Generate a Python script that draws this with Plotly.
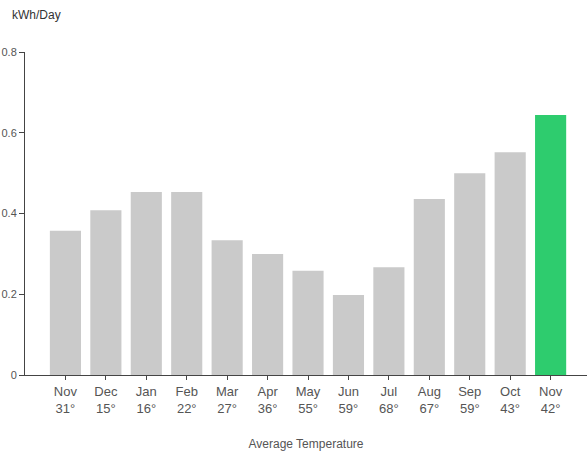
import plotly.graph_objects as go

months = ["Nov", "Dec", "Jan", "Feb", "Mar", "Apr", "May", "Jun", "Jul", "Aug", "Sep", "Oct", "Nov"]
temps = ["31°", "15°", "16°", "22°", "27°", "36°", "55°", "59°", "68°", "67°", "59°", "43°", "42°"]
kwh = [0.357, 0.408, 0.453, 0.453, 0.334, 0.300, 0.258, 0.198, 0.267, 0.436, 0.500, 0.552, 0.644]
y_ticks = [0, 0.2, 0.4, 0.6, 0.8]
y_ticklabels = ["0", "0.2", "0.4", "0.6", "0.8"]

gray = "#cacaca"
green = "#2ecc6e"
colors = [gray] * (len(kwh) - 1) + [green]
x = list(range(len(kwh)))
ticktext = [f"{m}<br>{t}" for m, t in zip(months, temps)]

font_fam = "Liberation Sans, Arial, sans-serif"
txt_col = "#555555"

fig = go.Figure(go.Bar(x=x, y=kwh, marker=dict(color=colors, line=dict(width=0)), width=0.77))

fig.update_layout(
    width=587, height=455,
    margin=dict(l=25, r=0, t=52, b=80),
    plot_bgcolor="white", paper_bgcolor="white",
    showlegend=False,
    font=dict(family=font_fam, size=12, color=txt_col),
)
fig.update_xaxes(
    range=[-1, 12.9], tickmode="array", tickvals=x, ticktext=ticktext,
    showline=True, linecolor="#444", linewidth=1, ticks="outside", ticklen=4,
    tickcolor="#444", showgrid=False, zeroline=False, automargin=False,
    tickfont=dict(family=font_fam, size=13, color=txt_col),
    title=dict(text="Average Temperature", font=dict(family=font_fam, size=12, color=txt_col), standoff=25),
)
fig.update_yaxes(
    range=[0, 0.8], tickmode="array", tickvals=y_ticks, ticktext=y_ticklabels,
    showline=True, linecolor="#444", linewidth=1, ticks="outside", ticklen=5,
    tickcolor="#444", showgrid=False, zeroline=False, automargin=False,
    tickfont=dict(family=font_fam, size=11, color=txt_col),
)
fig.add_annotation(text="kWh/Day", xref="paper", yref="paper", x=-0.027, y=1.115,
                   xanchor="left", yanchor="middle", showarrow=False,
                   font=dict(family=font_fam, size=12, color="#333"))

fig.write_html("out.html", config={"displayModeBar": False},
               post_script="document.body.style.margin='0';")
